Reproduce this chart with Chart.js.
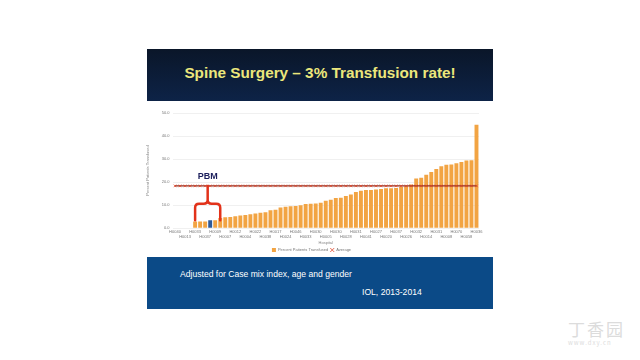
<!DOCTYPE html>
<html>
<head>
<meta charset="utf-8">
<script src="https://cdn.jsdelivr.net/npm/chart.js@4/dist/chart.umd.min.js"></script>
<style>
  html, body { margin: 0; padding: 0; background: #fff; width: 640px; height: 360px; overflow: hidden; font-family: "Liberation Sans", Arial, sans-serif; }
  #title { position: absolute; left: 147px; top: 49px; width: 346px; height: 52px;
    background: linear-gradient(#0a1629, #0d2347); color: #ece77c; font-weight: bold; font-size: 15.3px;
    text-align: center; line-height: 48px; z-index: 2; }
  #chartBox { position: absolute; left: 140px; top: 102px; width: 352px; height: 160px; }
  #footer { position: absolute; left: 147px; top: 257px; width: 346px; height: 52px; background: #0b4a87; color: #fff; font-size: 8.6px; z-index: 2; }
  #footer .l1 { position: absolute; left: 33px; top: 12px; }
  #footer .l2 { position: absolute; left: 215px; top: 30px; }
  #wm { position: absolute; left: 568px; top: 316px; color: #dcdcdc; font-family: "Noto Sans CJK SC", sans-serif; }
  #wm .cn { font-size: 17px; letter-spacing: 2px; }
  #wm .en { font-size: 6px; letter-spacing: 1px; margin-top: -3px; }
</style>
</head>
<body>
<div id="title">Spine Surgery – 3% Transfusion rate!</div>
<div id="chartBox"><canvas id="chart"></canvas></div>
<div id="footer">
  <div class="l1">Adjusted for Case mix index, age and gender</div>
  <div class="l2">IOL, 2013-2014</div>
</div>
<div id="wm"><div class="cn">丁香园</div><div class="en">www.dxy.cn</div></div>
<script>
// percent of patients transfused per hospital, sorted
const transfused = [
  0, 0, 0, 0,
  2.8, 2.8, 2.8, 3.4, 3.4, 4.4, 4.7, 4.8, 5.1, 5.4, 5.6, 6.0, 6.3, 6.6, 6.9, 7.7,
  7.9, 8.9, 9.2, 9.5, 9.6, 9.9, 10.4, 10.5, 10.7, 11.0,
  11.8, 12.3, 13.0, 13.2, 13.9, 14.6, 15.6, 16.2, 16.5, 16.5, 16.7, 17.0, 17.3, 17.3,
  17.4, 17.8, 18.1, 18.9, 21.5, 21.9, 23.2, 24.3, 25.7, 26.9, 27.5, 27.6, 28.2, 28.7,
  29.4, 29.5, 44.9
]
const averageValue = 18.3
const tickLabels = [
  'H0040', 'H0013', 'H0033', 'H0037', 'H0009', 'H0007', 'H0012', 'H0004',
  'H0022', 'H0038', 'H0017', 'H0024', 'H0046', 'H0033', 'H0030', 'H0005',
  'H0030', 'H0028', 'H0031', 'H0041', 'H0027', 'H0020', 'H0037', 'H0026',
  'H0032', 'H0014', 'H0031', 'H0008', 'H0070', 'H0058', 'H0036'
]
const yTicks = [0, 10, 20, 30, 40, 50]
const highlightIndex = 7 // the PBM hospital
const pbmStart = 4
const pbmEnd = 9
const bracketTop = 10.5
const bracketBottom = 3.4

const hospitals = transfused.map((_, i) => i % 2 === 0 ? tickLabels[i / 2] : '')

const pbmBracket = {
  id: 'pbmBracket',
  afterDatasetsDraw(chart) {
    const { ctx, scales: { x, y } } = chart
    const x1 = x.getPixelForValue(pbmStart)
    const x2 = x.getPixelForValue(pbmEnd)
    const xm = (x1 + x2) / 2
    const yt = y.getPixelForValue(bracketTop)
    const yb = y.getPixelForValue(bracketBottom)
    const ys = y.getPixelForValue(averageValue)
    const r = 4
    ctx.save()
    ctx.strokeStyle = '#e2321a'
    ctx.lineWidth = 2.5
    ctx.lineCap = 'round'
    ctx.beginPath()
    ctx.moveTo(x1, yb)
    ctx.lineTo(x1, yt + r)
    ctx.quadraticCurveTo(x1, yt, x1 + r, yt)
    ctx.lineTo(xm - r, yt)
    ctx.quadraticCurveTo(xm, yt, xm, yt - r)
    ctx.lineTo(xm, ys)
    ctx.moveTo(xm, yt - r)
    ctx.quadraticCurveTo(xm, yt, xm + r, yt)
    ctx.lineTo(x2 - r, yt)
    ctx.quadraticCurveTo(x2, yt, x2, yt + r)
    ctx.lineTo(x2, yb)
    ctx.stroke()
    ctx.fillStyle = '#1c1f5c'
    ctx.font = 'bold 9px "Liberation Sans", Arial, sans-serif'
    ctx.textAlign = 'center'
    ctx.textBaseline = 'bottom'
    ctx.fillText('PBM', xm, ys - 5)
    ctx.restore()
  }
}

const tiny = { size: 4, lineHeight: 1.1, family: '"Liberation Sans", Arial, sans-serif' }

new Chart(document.getElementById('chart'), {
  data: {
    labels: hospitals,
    datasets: [{
      type: 'line',
      label: 'Average',
      data: hospitals.map(() => averageValue),
      borderColor: '#8e2b1c',
      borderWidth: 1.2,
      pointStyle: 'crossRot',
      pointRadius: 1.8,
      pointBorderColor: '#e0452a',
      pointBorderWidth: 0.8,
      order: 0
    }, {
      type: 'bar',
      label: 'Percent Patients Transfused',
      data: transfused,
      backgroundColor: transfused.map((_, i) => i === highlightIndex ? '#2f5a98' : '#f2a443'),
      pointStyle: 'rect',
      barPercentage: 0.78,
      categoryPercentage: 1,
      order: 1
    }]
  },
  options: {
    responsive: true,
    maintainAspectRatio: false,
    animation: false,
    layout: { padding: { left: 4, right: 13, top: 11, bottom: 0 } },
    scales: {
      x: {
        grid: { display: false, drawTicks: false },
        border: { display: false },
        afterFit: axis => { axis.height = 18 },
        ticks: {
          autoSkip: false,
          maxRotation: 0,
          minRotation: 0,
          padding: 2,
          color: '#777',
          font: tiny,
          callback: function(value, index) {
            if (index % 2 !== 0) return ''
            const k = index / 2
            return k % 2 === 0 ? [tickLabels[k], ''] : ['', tickLabels[k]]
          }
        },
        title: { display: true, text: 'Hospital', color: '#888', font: tiny, padding: 1 }
      },
      y: {
        min: 0,
        max: 50,
        afterBuildTicks: axis => { axis.ticks = yTicks.map(v => ({ value: v })) },
        afterFit: axis => { axis.width = 28.5 },
        grid: { color: '#e6e6e6', lineWidth: 0.6, drawTicks: false },
        border: { display: false },
        ticks: { color: '#777', font: tiny, padding: 3, callback: v => v.toFixed(1) },
        title: { display: true, text: 'Percent Patients Transfused', color: '#888', font: tiny, padding: 2 }
      }
    },
    plugins: {
      legend: {
        display: true,
        position: 'bottom',
        reverse: true,
        labels: { usePointStyle: true, boxWidth: 4, boxHeight: 4, padding: 2, color: '#777', font: tiny }
      },
      tooltip: { enabled: false }
    }
  },
  plugins: [pbmBracket]
})
</script>
</body>
</html>
